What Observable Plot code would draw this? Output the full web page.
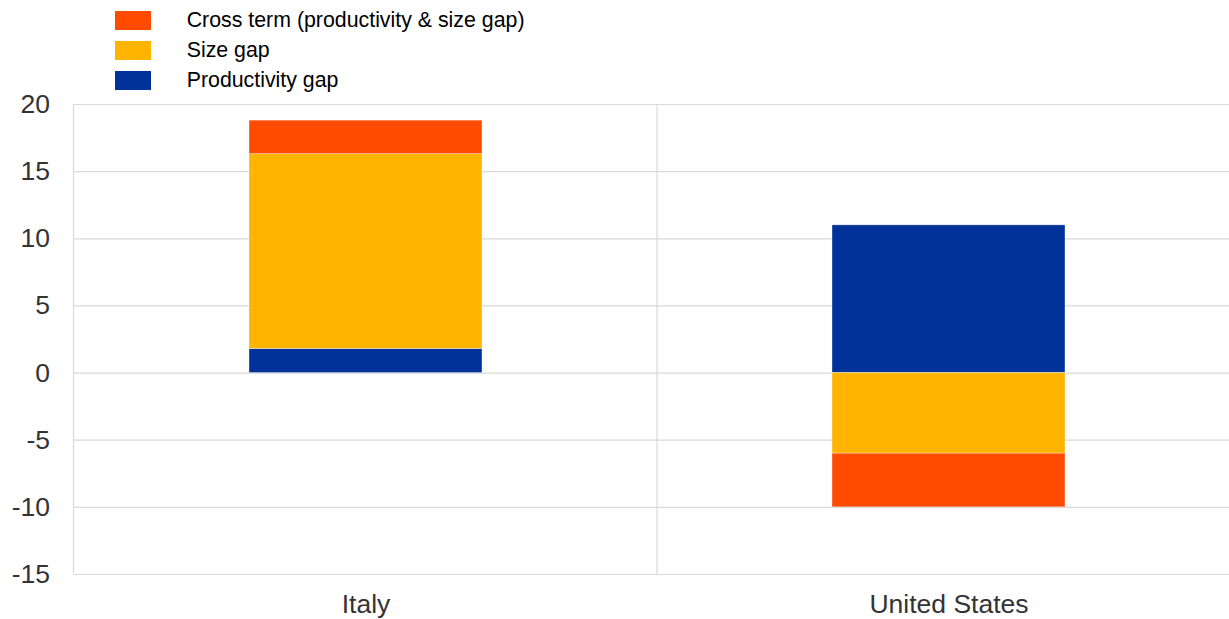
<!DOCTYPE html>
<html><head><meta charset="utf-8">
<script src="https://cdn.jsdelivr.net/npm/d3@7"></script>
<script src="https://cdn.jsdelivr.net/npm/@observablehq/plot@0.6"></script>
<style>
body{margin:0;background:#fff;font-family:"Liberation Sans",Arial,sans-serif;overflow:hidden}
#legend{height:95px;box-sizing:border-box;padding-top:5.5px}
.row{display:flex;align-items:center;height:30px;font-size:21.33px;color:#000}
.sw{width:36px;height:19px;margin-left:115px;margin-right:35.7px;flex:none}
</style></head><body>
<div id="legend"></div><div id="chart"></div>
<script>
const countries = ["Italy", "United States"];
const seriesNames = ["Productivity gap", "Size gap", "Cross term (productivity & size gap)"];
const productivityGap = [1.8, 11.0];
const sizeGap = [14.5, -6.0];
const crossTerm = [2.5, -4.0];
const seriesColors = ["#003299", "#FFB400", "#FF4B00"];
const yTicks = [-15, -10, -5, 0, 5, 10, 15, 20];
const legendOrder = [2, 1, 0];

const values = [productivityGap, sizeGap, crossTerm];
const data = [];
seriesNames.forEach((s, j) => countries.forEach((c, i) => data.push({country: c, series: s, value: values[j][i]})));

const legend = d3.select("#legend");
legendOrder.forEach(j => {
  const r = legend.append("div").attr("class", "row");
  r.append("div").attr("class", "sw").style("background", seriesColors[j]);
  r.append("span").text(seriesNames[j]);
});

const plot = Plot.plot({
  width: 1229, height: 524,
  marginTop: 9, marginBottom: 45, marginLeft: 73.5, marginRight: 0,
  style: {fontFamily: '"Liberation Sans", Arial, sans-serif', fontSize: "26.5px", color: "#333", background: "white", overflow: "visible"},
  x: {domain: countries, range: [73.5, 1241], paddingInner: 0.6, paddingOuter: 0.3, label: null, tickSize: 0, tickPadding: 20},
  y: {domain: [-15, 20], ticks: yTicks, label: null, tickSize: 0, tickPadding: 24, tickFormat: d => String(d)},
  color: {domain: seriesNames, range: seriesColors},
  marks: [
    Plot.ruleY(yTicks, {stroke: "#d9d9d9", strokeWidth: 1.2}),
    Plot.barY(data, Plot.stackY({x: "country", y: "value", fill: "series", stroke: "white", strokeWidth: 0.6, strokeOpacity: 0.6}))
  ]
});

// vertical lines: left frame edge and category boundary, from the library's scales
const xs = plot.scale("x"), ys = plot.scale("y");
const gap = (xs.step - xs.bandwidth) / 2;
const vx = [xs.range[0], xs.apply(countries[1]) - gap];
const g = d3.select(plot).insert("g", "g[aria-label='bar']");
vx.forEach(x => g.append("line").attr("x1", x).attr("x2", x)
  .attr("y1", ys.apply(yTicks[yTicks.length - 1])).attr("y2", ys.apply(yTicks[0]))
  .attr("stroke", "#d9d9d9").attr("stroke-width", 1.2));

document.getElementById("chart").appendChild(plot);
</script></body></html>
